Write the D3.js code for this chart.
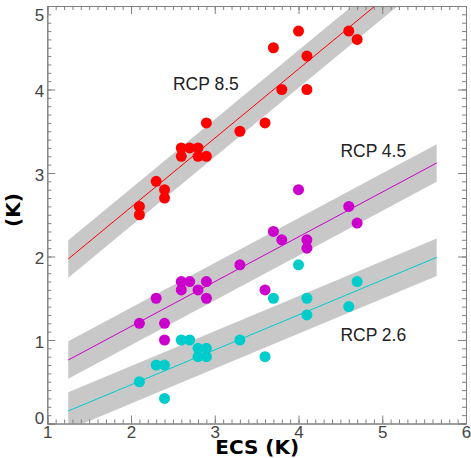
<!DOCTYPE html>
<html>
<head>
<script src="https://cdn.jsdelivr.net/npm/d3@7"></script>
<style>
body { margin: 0; background: #fff; }
text { font-family: 'Liberation Sans', Arial, sans-serif; }
</style>
</head>
<body>
<svg id="chart"></svg>
<script>
// ECS of each model, one x value per point
const ecs85 = [2.1, 2.1, 2.3, 2.4, 2.4, 2.6, 2.6, 2.7, 2.8, 2.8, 2.9, 2.9, 3.3, 3.6, 3.7, 3.8, 4.0, 4.1, 4.1, 4.6, 4.7];
const warm85 = [2.6, 2.5, 2.9, 2.8, 2.7, 3.3, 3.2, 3.3, 3.3, 3.2, 3.6, 3.2, 3.5, 3.6, 4.5, 4.0, 4.7, 4.4, 4.0, 4.7, 4.6];

const ecs45 = [2.1, 2.3, 2.4, 2.4, 2.6, 2.6, 2.7, 2.8, 2.9, 2.9, 3.3, 3.6, 3.7, 3.8, 4.0, 4.1, 4.1, 4.6, 4.7];
const warm45 = [1.2, 1.5, 1.2, 1.0, 1.7, 1.6, 1.7, 1.6, 1.7, 1.5, 1.9, 1.6, 2.3, 2.2, 2.8, 2.2, 2.1, 2.6, 2.4];

const ecs26 = [2.1, 2.3, 2.4, 2.4, 2.6, 2.7, 2.8, 2.8, 2.9, 2.9, 3.3, 3.6, 3.7, 4.0, 4.1, 4.1, 4.6, 4.7];
const warm26 = [0.5, 0.7, 0.7, 0.3, 1.0, 1.0, 0.9, 0.8, 0.9, 0.8, 1.0, 0.8, 1.5, 1.9, 1.5, 1.3, 1.4, 1.7];

// fitted lines: [x0, y0, x1, y1]
const fitNames = ['RCP 8.5', 'RCP 4.5', 'RCP 2.6'];
const fitEnds = [
  [1.25, 1.97, 5.65, 5.61],
  [1.25, 0.76, 5.65, 3.12],
  [1.25, 0.15, 5.65, 1.99]
];
const bandHalf = [0.225, 0.225, 0.225];
const colors = ['#ff0000', '#cc00cc', '#00cccc'];
// label anchor (left, baseline) in data units
const labelAt = [[2.5, 3.99], [4.5, 3.19], [4.5, 0.99]];

const xTicks = [1, 2, 3, 4, 5, 6];
const yTicks = [0, 1, 2, 3, 4, 5];

const W = 471, H = 458;
const mLeft = 47.3, mRight = 466, mTop = 6, mBottom = 423.5;

const svg = d3.select('#chart').attr('width', W).attr('height', H);

const x = d3.scaleLinear().domain([1, 6]).range([mLeft, mRight]);
const y = d3.scaleLinear().domain([0, 5]).range([mBottom, mTop]);

svg.append('clipPath').attr('id', 'plot-clip')
  .append('rect')
  .attr('x', mLeft).attr('y', mTop)
  .attr('width', mRight - mLeft).attr('height', mBottom - mTop);

const plot = svg.append('g').attr('clip-path', 'url(#plot-clip)');

// grey bands
fitEnds.forEach((f, i) => {
  const h = bandHalf[i];
  const pts = [[f[0], f[1] + h], [f[2], f[3] + h], [f[2], f[3] - h], [f[0], f[1] - h]];
  plot.append('path')
    .attr('d', 'M' + pts.map(p => [x(p[0]), y(p[1])].join(',')).join('L') + 'Z')
    .attr('fill', '#c8c8c8');
});

// fit lines
fitEnds.forEach((f, i) => {
  plot.append('line')
    .attr('x1', x(f[0])).attr('y1', y(f[1]))
    .attr('x2', x(f[2])).attr('y2', y(f[3]))
    .attr('stroke', colors[i])
    .attr('stroke-width', 1);
});

// points
const series = [[ecs85, warm85], [ecs45, warm45], [ecs26, warm26]];
series.forEach((s, i) => {
  plot.append('g').selectAll('circle')
    .data(s[0].map((e, j) => [e, s[1][j]]))
    .enter()
    .append('circle')
    .attr('cx', d => x(d[0]))
    .attr('cy', d => y(d[1]))
    .attr('r', 5.5)
    .attr('fill', colors[i]);
});

// labels
fitNames.forEach((n, i) => {
  svg.append('text')
    .attr('x', x(labelAt[i][0]))
    .attr('y', y(labelAt[i][1]))
    .attr('font-size', '17.5px')
    .attr('fill', '#222')
    .text(n);
});

// axes, ticks pointing inward on all four sides
const axisColor = '#808080';
const minorX = d3.range(10, 61).map(d => d / 10);
const minorY = d3.range(0, 51).map(d => d / 10);

function styleAxis(g) {
  g.selectAll('path,line').attr('stroke', axisColor);
}

svg.append('g').attr('transform', `translate(0,${mBottom})`)
  .call(d3.axisBottom(x).tickValues(minorX).tickSize(-4).tickFormat(''))
  .call(styleAxis);
svg.append('g').attr('transform', `translate(0,${mTop})`)
  .call(d3.axisTop(x).tickValues(minorX).tickSize(-4).tickFormat(''))
  .call(styleAxis);
svg.append('g').attr('transform', `translate(${mLeft},0)`)
  .call(d3.axisLeft(y).tickValues(minorY).tickSize(-4).tickFormat(''))
  .call(styleAxis);
svg.append('g').attr('transform', `translate(${mRight},0)`)
  .call(d3.axisRight(y).tickValues(minorY).tickSize(-4).tickFormat(''))
  .call(styleAxis);

const xAxis = svg.append('g').attr('transform', `translate(0,${mBottom})`)
  .call(d3.axisBottom(x).tickValues(xTicks).tickSize(-8).tickPadding(2.5).tickFormat(d3.format('d')))
  .call(styleAxis);
svg.append('g').attr('transform', `translate(0,${mTop})`)
  .call(d3.axisTop(x).tickValues(xTicks).tickSize(-8).tickFormat(''))
  .call(styleAxis);
const yAxis = svg.append('g').attr('transform', `translate(${mLeft},0)`)
  .call(d3.axisLeft(y).tickValues(yTicks).tickSize(-8).tickPadding(3).tickFormat(d3.format('d')))
  .call(styleAxis);
svg.append('g').attr('transform', `translate(${mRight},0)`)
  .call(d3.axisRight(y).tickValues(yTicks).tickSize(-8).tickFormat(''))
  .call(styleAxis);

[xAxis, yAxis].forEach(a => a.selectAll('text')
  .attr('font-family', "'Liberation Sans', Arial, sans-serif")
  .attr('font-size', '17px')
  .attr('fill', '#444'));

// keep end labels inside the frame like the original
yAxis.selectAll('.tick').filter(d => d === 5).select('text').attr('dy', '0.85em');
yAxis.selectAll('.tick').filter(d => d === 0).select('text').attr('dy', '0.02em');
yAxis.selectAll('.tick').filter(d => d > 0 && d < 5).select('text').attr('dy', '0.42em');

// axis titles
svg.append('text')
  .attr('x', (mLeft + mRight) / 2 + 0.5)
  .attr('y', 454)
  .attr('text-anchor', 'middle')
  .style('font-family', "'DejaVu Sans', sans-serif")
  .style('font-weight', 'bold')
  .style('font-size', '20px')
  .attr('fill', '#000')
  .text('ECS (K)');

svg.append('text')
  .attr('transform', 'translate(20,210) rotate(-90)')
  .attr('text-anchor', 'middle')
  .style('font-family', "'DejaVu Sans', sans-serif")
  .style('font-weight', 'bold')
  .style('font-size', '20px')
  .attr('fill', '#000')
  .text('(K)');
</script>
</body>
</html>
